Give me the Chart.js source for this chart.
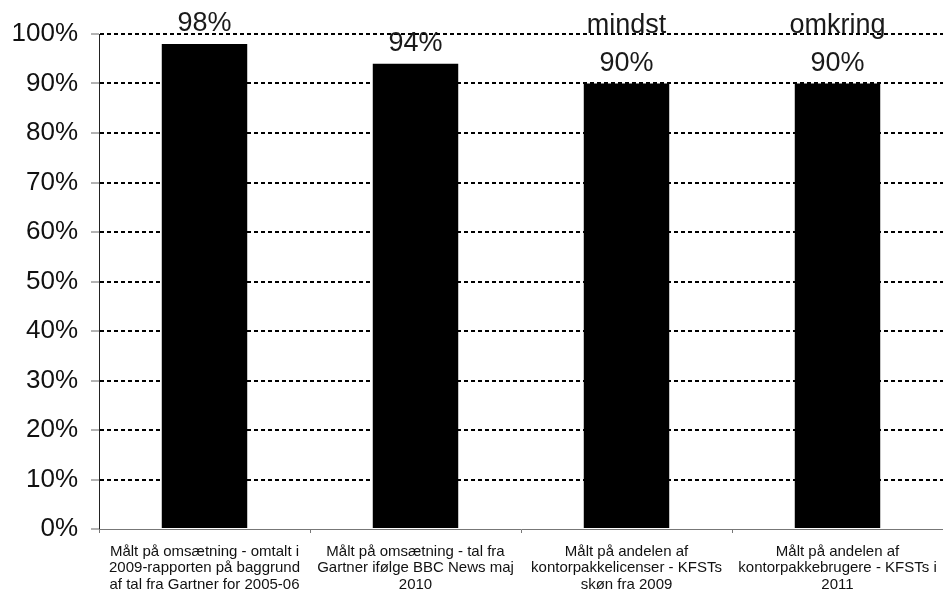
<!DOCTYPE html>
<html>
<head>
<meta charset="utf-8">
<script src="https://cdn.jsdelivr.net/npm/chart.js@4"></script>
<style>
  html, body { margin: 0; padding: 0; background: #fff; }
  #wrap { width: 943px; height: 593px; }
</style>
</head>
<body>
<div id="wrap"><canvas id="shareChart"></canvas></div>
<script>
const categories = [
  ['Målt på omsætning - omtalt i', '2009-rapporten på baggrund', 'af tal fra Gartner for 2005-06'],
  ['Målt på omsætning - tal fra', 'Gartner ifølge BBC News maj', '2010'],
  ['Målt på andelen af', 'kontorpakkelicenser - KFSTs', 'skøn fra 2009'],
  ['Målt på andelen af', 'kontorpakkebrugere - KFSTs i', '2011']
];
const shares = [98, 94, 90, 90];
const valueLabels = [['98%'], ['94%'], ['mindst', '90%'], ['omkring', '90%']];
const yTicks = [0, 10, 20, 30, 40, 50, 60, 70, 80, 90, 100];

const FONT = "'Liberation Sans', Arial, sans-serif";

// draws the text above each bar, anchored to the bar top from the scale
const barLabels = {
  id: 'barLabels',
  afterDatasetsDraw(chart) {
    const { ctx } = chart;
    const meta = chart.getDatasetMeta(0);
    ctx.save();
    ctx.font = '27px ' + FONT;
    ctx.fillStyle = '#1a1a1a';
    ctx.textAlign = 'center';
    ctx.textBaseline = 'alphabetic';
    meta.data.forEach((bar, i) => {
      const lines = valueLabels[i];
      let y = bar.y - 13;
      for (let j = lines.length - 1; j >= 0; j--) {
        ctx.fillText(lines[j], bar.x, y);
        y -= 38;
      }
    });
    ctx.restore();
  }
};

new Chart(document.getElementById('shareChart'), {
  type: 'bar',
  data: {
    labels: categories,
    datasets: [{
      data: shares,
      backgroundColor: '#000',
      borderWidth: 0,
      barPercentage: 0.405,
      categoryPercentage: 1
    }]
  },
  options: {
    responsive: true,
    maintainAspectRatio: false,
    animation: false,
    layout: { padding: { top: 34, left: 0, right: -6, bottom: 0 } },
    plugins: {
      legend: { display: false },
      tooltip: { enabled: false }
    },
    scales: {
      y: {
        min: 0,
        max: 100,
        afterFit(scale) {
          scale.width = 99;
          scale.paddingTop = 0;
          scale.paddingBottom = 0;
        },
        afterBuildTicks(scale) { scale.ticks = yTicks.map(v => ({ value: v })); },
        border: { display: true, color: '#222', width: 1, dash: [4, 3] },
        grid: {
          color: c => c.tick && c.tick.value === 0 ? 'rgba(0,0,0,0)' : '#000',
          lineWidth: 2,
          tickLength: 8,
          tickColor: '#666',
          tickWidth: 1,
          tickBorderDash: []
        },
        ticks: {
          padding: 13,
          color: '#111',
          font: { family: FONT, size: 26 },
          callback: v => v + '%'
        }
      },
      x: {
        offset: true,
        afterFit(scale) {
          scale.height = 64;
          scale.paddingLeft = 0;
          scale.paddingRight = 0;
        },
        border: { display: true, color: '#777', width: 1 },
        grid: {
          offset: true,
          drawOnChartArea: false,
          tickLength: 4,
          tickColor: '#777',
          tickWidth: 1
        },
        ticks: {
          padding: 10,
          color: '#111',
          maxRotation: 0,
          autoSkip: false,
          font: { family: FONT, size: 15, lineHeight: 1.12 }
        }
      }
    }
  },
  plugins: [barLabels]
});
</script>
</body>
</html>
